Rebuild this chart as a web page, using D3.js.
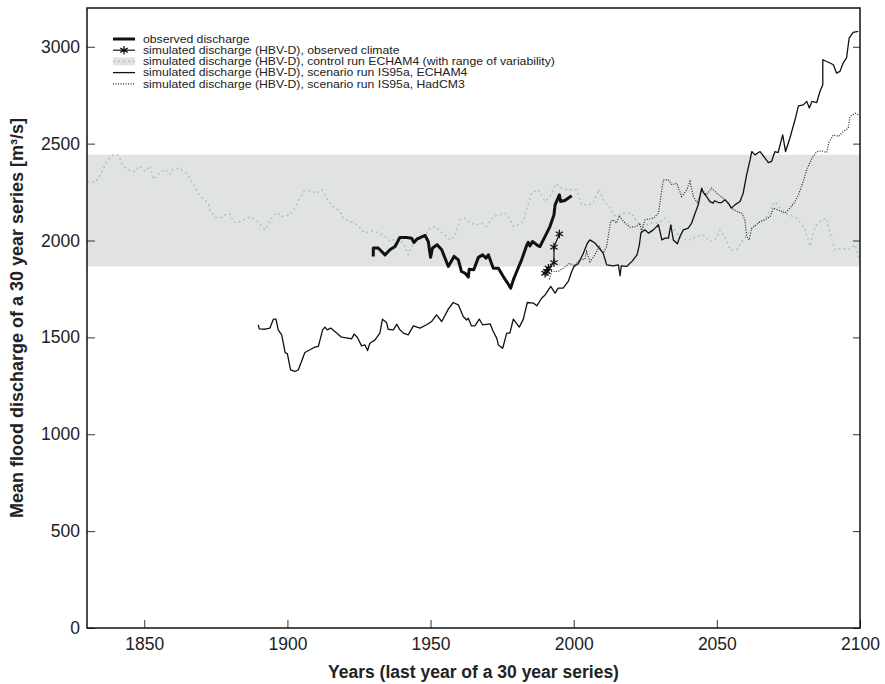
<!DOCTYPE html>
<html>
<head>
<meta charset="utf-8">
<script src="https://cdn.jsdelivr.net/npm/d3@7"></script>
<style>
  body { margin: 0; background: #fff; }
  svg text { font-family: "Liberation Sans", Arial, Helvetica, sans-serif; }
</style>
</head>
<body>
<div id="chart"></div>
<script>
// Axis ticks
const xTicks = [1850, 1900, 1950, 2000, 2050, 2100];
const yTicks = [0, 500, 1000, 1500, 2000, 2500, 3000];

// Range of variability of the control run (grey band)
const bandRange = [1866, 2443];

// [year, discharge m³/s]
const controlRun = [
  [1830,2304],[1832.8,2300],[1834.5,2334],[1836.9,2408],[1839.2,2442],[1840.9,2442],[1842.7,2382],[1845,2361],
  [1846.8,2356],[1848.5,2385],[1850.3,2356],[1852,2385],[1853.2,2316],[1855.5,2347],[1857.2,2368],[1859,2342],
  [1860.1,2368],[1861.9,2373],[1864.8,2347],[1866.6,2304],[1867.7,2279],[1868.9,2244],[1870.6,2213],[1872.4,2193],
  [1872.9,2158],[1874.7,2121],[1876.4,2115],[1878.2,2132],[1879.9,2137],[1881.1,2098],[1882.3,2090],[1884.6,2107],
  [1886.9,2121],[1889.2,2103],[1892.2,2055],[1894.5,2115],[1896.2,2145],[1898,2124],[1900.9,2132],[1902.6,2167],
  [1903.8,2206],[1905.8,2253],[1907.9,2258],[1910.2,2244],[1912,2262],[1914.3,2201],[1916,2176],[1918.4,2150],
  [1919.5,2115],[1921.9,2098],[1923.6,2090],[1925.4,2064],[1927.1,2038],[1929.4,2050],[1931.7,2041],[1934.1,2021],
  [1935.8,1995],[1938.2,2012],[1940.5,1987],[1942.2,1926],[1944,1987],[1945.7,2003],[1948.1,2021],[1949.8,2064],
  [1951.6,2072],[1952.7,2055],[1955,2029],[1956.8,2003],[1958.5,2021],[1960.3,2107],[1962,2115],[1963.8,2090],
  [1966.1,2081],[1967.8,2090],[1969.6,2072],[1971.9,2124],[1973.7,2132],[1976,2141],[1977.7,2110],[1978.9,2072],
  [1980.6,2081],[1982.4,2098],[1983.5,2158],[1985.3,2244],[1987.6,2262],[1990,2201],[1991.7,2227],[1993.8,2293],
  [1995.8,2270],[1998.1,2262],[2001,2262],[2002.8,2184],[2005,2184],[2006.8,2193],[2008.9,2265],[2010.3,2210],
  [2012.7,2170],[2013.9,2132],[2015,2124],[2017.3,2141],[2020.2,2141],[2022,2098],[2024.3,2072],[2026.6,2090],
  [2029.5,2090],[2031.9,2115],[2033.6,2090],[2035.9,2038],[2038.3,2003],[2040.6,2003],[2042.9,2021],[2045.3,2029],
  [2047.6,1995],[2049.3,2003],[2051.1,2055],[2052.8,2021],[2054.6,1952],[2056.9,1952],[2058.7,1995],[2061,2038],
  [2063.9,2090],[2066.8,2107],[2068.6,2158],[2070.3,2201],[2072.7,2158],[2075,2132],[2076.7,2124],[2078.5,2107],
  [2080.8,2055],[2082.5,1969],[2084.3,2072],[2086.6,2107],[2088.4,2115],[2089.5,2038],[2091.3,1952],[2093.6,1961],
  [2095.9,1952],[2098.3,1978],[2100,1890]
];

const observed = [
  [1930,1918],[1930,1961],[1931.7,1961],[1934.1,1926],[1935.8,1952],[1937.6,1969],[1939.3,2016],[1941.7,2016],
  [1943.4,2012],[1944.2,1990],[1945.2,2007],[1948.1,2026],[1949.2,1995],[1950,1913],[1950.7,1961],[1952.3,1978],
  [1953.9,1952],[1956.2,1866],[1958.2,1918],[1959.7,1900],[1960.8,1840],[1962,1832],[1963.2,1811],[1963.5,1852],
  [1965.1,1849],[1966.7,1913],[1968.2,1926],[1969.4,1909],[1970.2,1926],[1971.9,1857],[1973.7,1857],[1975.4,1814],
  [1976.8,1783],[1978,1754],[1978.9,1797],[1980.1,1840],[1981.8,1900],[1983.5,1972],[1984.1,1990],[1984.7,1972],
  [1985.6,1995],[1987.6,1972],[1988.2,1969],[1990,2021],[1991.7,2072],[1993.1,2132],[1993.5,2184],[1995,2236],
  [1995.4,2201],[1996.9,2206],[1999.3,2231]
];

const observedClimate = [
  [1990,1831],[1990.6,1840],[1991.2,1857],[1993.1,1886],[1993.1,1966],[1995,2034]
];

const scenarioEcham = [
  [1889.8,1565],[1890.2,1544],[1892.2,1542],[1893.9,1548],[1895.1,1594],[1896,1594],[1896.8,1539],[1898,1513],
  [1899.2,1422],[1900,1415],[1901.1,1332],[1902.6,1324],[1903.8,1332],[1906.1,1422],[1907.9,1436],[1909.3,1448],
  [1910.8,1453],[1912.3,1539],[1913.1,1553],[1913.9,1539],[1915.1,1548],[1917.2,1522],[1918.9,1501],[1921.2,1496],
  [1922.4,1492],[1923.3,1517],[1924.4,1501],[1925.9,1456],[1927.1,1461],[1928,1432],[1928.8,1470],[1930.6,1487],
  [1932.3,1522],[1933.2,1594],[1934.6,1577],[1935.2,1542],[1937,1539],[1938.2,1568],[1939.3,1539],[1940.5,1522],
  [1942.2,1513],[1944,1559],[1946.3,1548],[1948.6,1565],[1950.4,1582],[1952.1,1616],[1953.9,1582],[1956.2,1646],
  [1957.9,1680],[1959.7,1668],[1961.4,1608],[1962.6,1590],[1963.2,1599],[1964.3,1559],[1965.5,1559],[1967,1594],
  [1968.2,1565],[1970.8,1570],[1971.9,1530],[1973.1,1496],[1973.7,1461],[1975.2,1444],[1976.6,1522],[1977.7,1522],
  [1978.9,1594],[1981,1553],[1982.4,1594],[1983.8,1680],[1985.9,1677],[1987.1,1663],[1988.8,1702],[1990,1719],
  [1992,1763],[1993.5,1728],[1994.6,1754],[1996.3,1754],[1998.1,1789],[1999.3,1840],[2000.1,1866],[2001.6,1880],
  [2003.4,1935],[2004.8,1987],[2005.7,2003],[2007.4,1987],[2008.9,1961],[2010.3,1935],[2011.5,1874],[2013.8,1869],
  [2015.6,1874],[2016.2,1818],[2016.6,1869],[2018.5,1866],[2020.5,1895],[2022.1,1926],[2022.9,1975],[2023.5,2040],
  [2024.9,2055],[2026.1,2038],[2027.8,2055],[2029.6,2081],[2030.8,2003],[2031.9,2012],[2033.1,2012],[2033.9,2081],
  [2034.8,2003],[2036.2,1983],[2037.1,2021],[2038.3,2055],[2040,2064],[2041.2,2090],[2042.4,2141],[2043.5,2184],
  [2044.7,2270],[2045.2,2250],[2046.4,2227],[2047.6,2201],[2048.7,2193],[2049.2,2205],[2050.5,2196],[2051.7,2196],
  [2052.8,2210],[2054,2193],[2055.1,2167],[2056.3,2184],[2058.1,2201],[2059.2,2244],[2060.4,2339],[2061.6,2416],
  [2062.2,2459],[2063.3,2442],[2065.1,2459],[2066.8,2425],[2068,2402],[2069.1,2408],[2070.3,2459],[2071.4,2454],
  [2073,2545],[2074,2459],[2075.5,2528],[2077.3,2623],[2078.5,2695],[2080.2,2700],[2081.4,2718],[2082.3,2684],
  [2083.2,2718],[2084.9,2712],[2086,2769],[2087,2804],[2087,2933],[2089.5,2916],[2090.7,2907],[2091.8,2864],
  [2093,2873],[2094.1,2916],[2095.3,2942],[2096.2,3044],[2097.6,3074],[2099.4,3079]
];

const scenarioHadcm = [
  [1991.5,1800],[1992.3,1840],[1994.6,1840],[1996.3,1857],[1998.6,1883],[2000,1869],[2002.2,1900],[2003.9,1904],
  [2004.5,1943],[2005.7,1891],[2007.4,1926],[2008.9,1969],[2010.3,1935],[2011.5,1969],[2012.9,2098],[2013.8,2107],
  [2015,2090],[2015.9,2128],[2017.9,2090],[2019.7,2069],[2022,2072],[2023.1,2090],[2023.7,2045],[2024.9,2107],
  [2027.8,2115],[2029.6,2141],[2031.3,2313],[2033.1,2313],[2034.3,2288],[2036,2296],[2037.7,2227],[2039.5,2262],
  [2040.6,2305],[2041.8,2227],[2043.2,2193],[2044.7,2262],[2046.4,2236],[2048.2,2270],[2049.9,2244],[2052.2,2218],
  [2053.4,2201],[2055.1,2167],[2056.9,2150],[2058.7,2141],[2059.8,2107],[2060.4,2021],[2061.3,2003],[2062.2,2064],
  [2063.9,2081],[2065.1,2098],[2066.8,2107],[2068.6,2124],[2069.7,2167],[2071.4,2158],[2073.8,2141],[2075.5,2167],
  [2077.3,2201],[2078.5,2236],[2079.6,2279],[2081.4,2365],[2083.2,2425],[2084.9,2459],[2086.6,2463],[2088.4,2454],
  [2089,2502],[2090.7,2545],[2092.5,2537],[2094.1,2562],[2095.9,2580],[2096.5,2640],[2098.3,2657],[2099.4,2649]
];

const legendLabels = [
  "observed discharge",
  "simulated discharge (HBV-D), observed climate",
  "simulated discharge (HBV-D), control run ECHAM4 (with range of variability)",
  "simulated discharge (HBV-D), scenario run IS95a, ECHAM4",
  "simulated discharge (HBV-D), scenario run IS95a, HadCM3"
];

const width = 885;
const height = 684;
const plotLeft = 87, plotRight = 860, plotTop = 8, plotBottom = 628;

const svg = d3.select("#chart").append("svg")
  .attr("width", width)
  .attr("height", height);

const x = d3.scaleLinear().domain([1830, 2100]).range([plotLeft, plotRight]);
const y = d3.scaleLinear().domain([0, 3200]).range([plotBottom, plotTop]);

svg.append("clipPath").attr("id", "plot-clip")
  .append("rect")
  .attr("x", plotLeft).attr("y", plotTop)
  .attr("width", plotRight - plotLeft).attr("height", plotBottom - plotTop);

const plot = svg.append("g").attr("clip-path", "url(#plot-clip)");

// grey band: range of variability
plot.append("rect")
  .attr("x", x(1830))
  .attr("width", x(2100) - x(1830))
  .attr("y", y(bandRange[1]))
  .attr("height", y(bandRange[0]) - y(bandRange[1]))
  .attr("fill", "#e1e3e3");

const line = d3.line().x(d => x(d[0])).y(d => y(d[1]));

plot.append("path")
  .attr("d", line(controlRun))
  .attr("fill", "none")
  .attr("stroke", "#9fc3cb")
  .attr("stroke-width", 1.4)
  .attr("stroke-dasharray", "2,3");

plot.append("path")
  .attr("d", line(scenarioHadcm))
  .attr("fill", "none")
  .attr("stroke", "#222")
  .attr("stroke-width", 1.2)
  .attr("stroke-dasharray", "1,1.5");

plot.append("path")
  .attr("d", line(scenarioEcham))
  .attr("fill", "none")
  .attr("stroke", "#111")
  .attr("stroke-width", 1.3)
  .attr("stroke-linejoin", "round");

plot.append("path")
  .attr("d", line(observed))
  .attr("fill", "none")
  .attr("stroke", "#111")
  .attr("stroke-width", 3)
  .attr("stroke-linejoin", "round");

// observed climate run: line with asterisks
plot.append("path")
  .attr("d", line(observedClimate))
  .attr("fill", "none")
  .attr("stroke", "#111")
  .attr("stroke-width", 1.2);

const star = d3.symbol(d3.symbolAsterisk, 50);
plot.selectAll(".star")
  .data(observedClimate)
  .enter()
  .append("path")
  .attr("class", "star")
  .attr("transform", d => `translate(${x(d[0])},${y(d[1])})`)
  .attr("d", star)
  .attr("fill", "none")
  .attr("stroke", "#111")
  .attr("stroke-width", 1.3);

// axes with inward ticks
const yAxis = svg.append("g")
  .attr("transform", `translate(${plotLeft},0)`)
  .call(d3.axisLeft(y).tickValues(yTicks).tickFormat(d3.format("d"))
    .tickSizeInner(-8).tickSizeOuter(0).tickPadding(7));

svg.append("g")
  .attr("transform", `translate(${plotRight},0)`)
  .call(d3.axisRight(y).tickValues(yTicks).tickSizeInner(-7).tickSizeOuter(0).tickFormat(""));

const xAxis = svg.append("g")
  .attr("transform", `translate(0,${plotBottom})`)
  .call(d3.axisBottom(x).tickValues(xTicks).tickFormat(d3.format("d"))
    .tickSizeInner(-8).tickSizeOuter(0).tickPadding(10));

svg.selectAll(".domain").remove();
svg.selectAll(".tick line").attr("stroke", "#333");
[yAxis, xAxis].forEach(a => a.selectAll("text")
  .attr("font-family", "'Liberation Sans', Arial, sans-serif")
  .attr("font-size", 17.5)
  .attr("fill", "#222"));

// frame
svg.append("rect")
  .attr("x", plotLeft).attr("y", plotTop)
  .attr("width", plotRight - plotLeft).attr("height", plotBottom - plotTop)
  .attr("fill", "none")
  .attr("stroke", "#111")
  .attr("stroke-width", 1.5);

// axis titles
svg.append("text")
  .attr("x", (plotLeft + plotRight) / 2)
  .attr("y", 678)
  .attr("text-anchor", "middle")
  .attr("font-size", 17.5)
  .attr("font-weight", "bold")
  .attr("fill", "#222")
  .text("Years (last year of a 30 year series)");

svg.append("text")
  .attr("transform", `translate(23,${(plotTop + plotBottom) / 2}) rotate(-90)`)
  .attr("text-anchor", "middle")
  .attr("font-size", 18)
  .attr("font-weight", "bold")
  .attr("fill", "#222")
  .text("Mean flood discharge of a 30 year series [m³/s]");

// legend
const legend = svg.append("g").attr("transform", "translate(113,39)");
const rowGap = 11.2;
const rows = legend.selectAll("g")
  .data(legendLabels)
  .enter()
  .append("g")
  .attr("transform", (d, i) => `translate(0,${i * rowGap})`);

// slightly widened glyphs to match the reference's wider legend type
rows.append("text")
  .attr("x", 30)
  .attr("dy", "0.35em")
  .attr("font-size", 11)
  .attr("fill", "#222")
  .text(d => d)
  .each(function () {
    const w = this.getComputedTextLength();
    d3.select(this).attr("textLength", w * 1.11).attr("lengthAdjust", "spacingAndGlyphs");
  });

const r0 = rows.filter((d, i) => i === 0);
r0.append("line").attr("x1", 0).attr("x2", 22).attr("stroke", "#111").attr("stroke-width", 3);

const r1 = rows.filter((d, i) => i === 1);
r1.append("line").attr("x1", 0).attr("x2", 22).attr("stroke", "#111").attr("stroke-width", 1.2);
r1.append("path").attr("transform", "translate(11,0)").attr("d", star)
  .attr("fill", "none").attr("stroke", "#111").attr("stroke-width", 1.3);

const r2 = rows.filter((d, i) => i === 2);
r2.append("rect").attr("x", 0).attr("y", -4).attr("width", 22).attr("height", 8).attr("fill", "#e1e3e3");
r2.append("line").attr("x1", 0).attr("x2", 22).attr("stroke", "#9fc3cb")
  .attr("stroke-width", 1.4).attr("stroke-dasharray", "2,3");

const r3 = rows.filter((d, i) => i === 3);
r3.append("line").attr("x1", 0).attr("x2", 22).attr("stroke", "#111").attr("stroke-width", 1.3);

const r4 = rows.filter((d, i) => i === 4);
r4.append("line").attr("x1", 0).attr("x2", 22).attr("stroke", "#222")
  .attr("stroke-width", 1.2).attr("stroke-dasharray", "1,1.5");
</script>
</body>
</html>
